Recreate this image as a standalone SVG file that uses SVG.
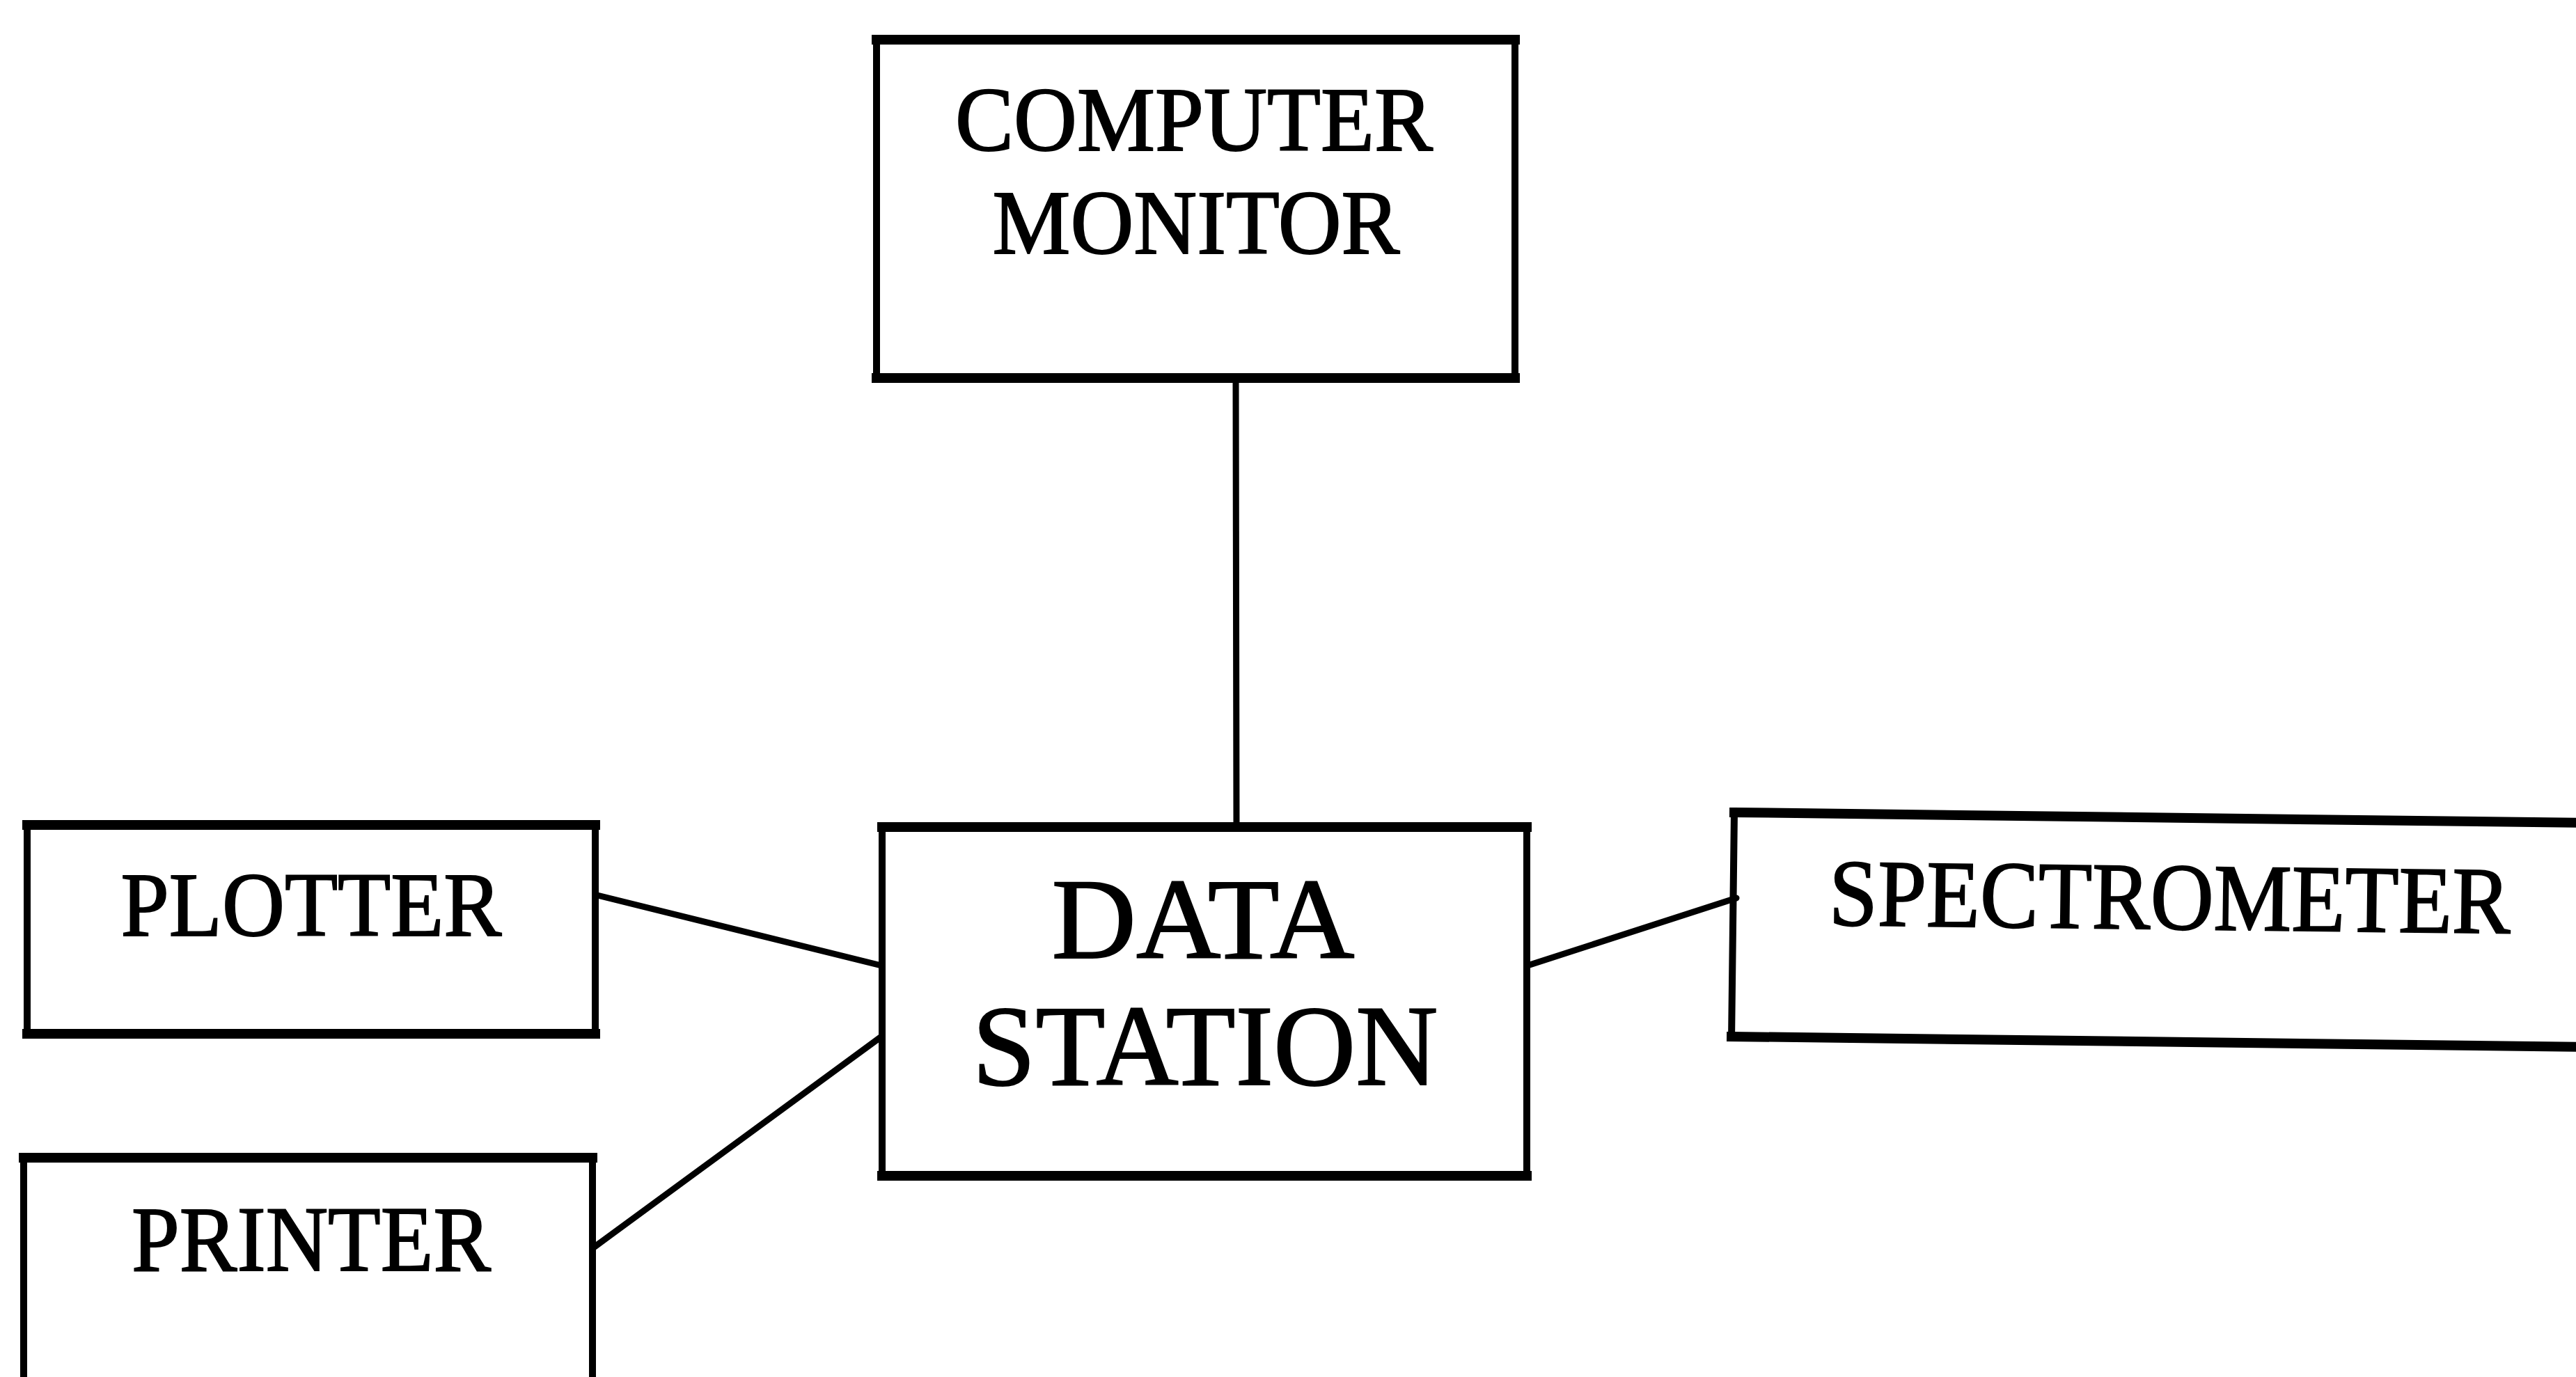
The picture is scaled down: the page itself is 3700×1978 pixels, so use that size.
<svg xmlns="http://www.w3.org/2000/svg" width="3700" height="1978" viewBox="0 0 3700 1978">
<style>
.side{fill:none;stroke:#000;stroke-width:10;stroke-linecap:square}
.edge{fill:none;stroke:#000;stroke-width:14;stroke-linecap:square}
.conn{fill:none;stroke:#000;stroke-width:9;stroke-linecap:round}
.lbl{font-family:"Liberation Serif","Times New Roman",serif;fill:#000;stroke:#000;stroke-width:2;text-anchor:middle}
</style>
<rect width="3700" height="1978" fill="#fff"/>
<g id="connectors">
<line class="conn" x1="1775" y1="543" x2="1776" y2="1188"/>
<line class="conn" x1="858" y1="1286" x2="1266" y2="1387"/>
<line class="conn" x1="854" y1="1791" x2="1266" y2="1489"/>
<line class="conn" x1="2194" y1="1387" x2="2494" y2="1290"/>
</g>
<g id="computer-monitor">
<path class="side" d="M1259,57 V543 M2176,57 V543"/>
<path class="edge" d="M1259,57 H2176 M1259,543 H2176"/>
<text class="lbl" x="1715" y="216" font-size="132" textLength="686" lengthAdjust="spacingAndGlyphs">COMPUTER</text>
<text class="lbl" x="1718" y="364" font-size="132" textLength="585" lengthAdjust="spacingAndGlyphs">MONITOR</text>
</g>
<g id="data-station">
<path class="side" d="M1267,1188 V1689 M2193,1188 V1689"/>
<path class="edge" d="M1267,1188 H2193 M1267,1689 H2193"/>
<text class="lbl" x="1728" y="1376" font-size="165" textLength="435" lengthAdjust="spacingAndGlyphs">DATA</text>
<text class="lbl" x="1731" y="1558" font-size="165" textLength="669" lengthAdjust="spacingAndGlyphs">STATION</text>
</g>
<g id="plotter">
<path class="side" d="M39,1185 V1485 M855,1185 V1485"/>
<path class="edge" d="M39,1185 H855 M39,1485 H855"/>
<text class="lbl" x="447" y="1344" font-size="132" textLength="547" lengthAdjust="spacingAndGlyphs">PLOTTER</text>
</g>
<g id="printer">
<path class="side" d="M34,1663 V2000 M851,1663 V2000"/>
<path class="edge" d="M34,1663 H851"/>
<text class="lbl" x="447" y="1825" font-size="134" textLength="516" lengthAdjust="spacingAndGlyphs">PRINTER</text>
</g>
<g id="spectrometer" transform="rotate(0.7 2491 1167)">
<path class="side" d="M2491,1167 V1489"/>
<path class="edge" d="M2491,1167 H3760 M2491,1489 H3760"/>
<text class="lbl" x="3118" y="1327" font-size="137" textLength="979" lengthAdjust="spacingAndGlyphs">SPECTROMETER</text>
</g>
</svg>
